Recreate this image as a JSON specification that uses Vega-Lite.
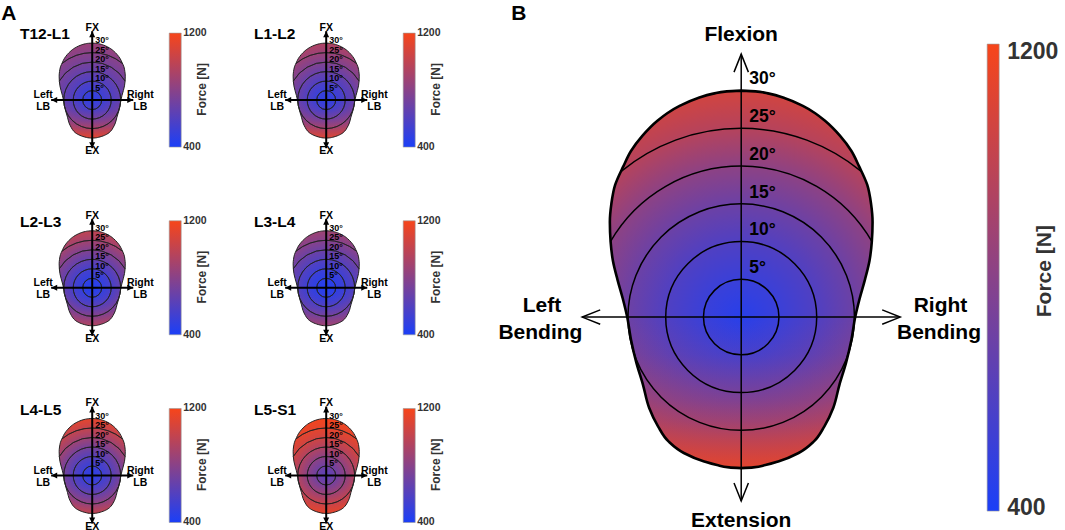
{
"$schema":"https://vega.github.io/schema/vega-lite/v6.json",
"background":"white",
"padding":{"left":1,"top":2.2,"right":0,"bottom":0},
"config":{"view":{"stroke":null},"font":"Liberation Sans"},
"datasets":{
"bnd":[{"y":-20,"x":0,"x2":0},{"y":-19.9,"x":-1.6,"x2":1.6},{"y":-19.6,"x":-3.2,"x2":3.2},{"y":-19.1,"x":-5.0,"x2":5.0},{"y":-18,"x":-7.6,"x2":7.6},{"y":-16.5,"x":-9.6,"x2":9.6},{"y":-14.5,"x":-11.0,"x2":11.0},{"y":-12,"x":-12.2,"x2":12.2},{"y":-9,"x":-13.0,"x2":13.0},{"y":-6,"x":-13.9,"x2":13.9},{"y":-3,"x":-14.6,"x2":14.6},{"y":0,"x":-15.1,"x2":15.1},{"y":2.5,"x":-15.7,"x2":15.7},{"y":5,"x":-16.4,"x2":16.4},{"y":7.5,"x":-17.0,"x2":17.0},{"y":10,"x":-17.3,"x2":17.3},{"y":12.6,"x":-17.4,"x2":17.4},{"y":15,"x":-17.2,"x2":17.2},{"y":17.5,"x":-16.7,"x2":16.7},{"y":20,"x":-15.6,"x2":15.6},{"y":22,"x":-14.6,"x2":14.6},{"y":24,"x":-13.1,"x2":13.1},{"y":26,"x":-11.1,"x2":11.1},{"y":27,"x":-9.8,"x2":9.8},{"y":28,"x":-8.1,"x2":8.1},{"y":29,"x":-5.8,"x2":5.8},{"y":29.6,"x":-3.7,"x2":3.7},{"y":29.9,"x":-1.9,"x2":1.9},{"y":30,"x":0,"x2":0}],
"circ":[{"x":0,"y":0,"r":5,"t1":0,"t2":360},{"x":0,"y":0,"r":10,"t1":0,"t2":360},{"x":0,"y":0,"r":15,"t1":0,"t2":360},{"x":0,"y":0,"r":20,"t1":-60,"t2":60},{"x":0,"y":0,"r":25,"t1":-39.5,"t2":39.5}],
"degs":[{"x":0,"y":6.5,"lab":"5°"},{"x":0,"y":11.5,"lab":"10°"},{"x":0,"y":16.5,"lab":"15°"},{"x":0,"y":21.5,"lab":"20°"},{"x":0,"y":26.5,"lab":"25°"},{"x":0,"y":31.5,"lab":"30°"}],
"axS":[{"x":-21.6,"x2":21.6,"y":0,"y2":0},{"x":0,"x2":0,"y":-25.3,"y2":36.3}],
"headS":[{"x":-21.6,"y":0,"ang":180},{"x":21.6,"y":0,"ang":0},{"x":0,"y":36.3,"ang":270},{"x":0,"y":-25.3,"ang":90}],
"labS":[{"x":0,"y":37.9,"t":"FX"},{"x":0,"y":-27.0,"t":"EX"},{"x":-25.8,"y":2.6,"t":"Left"},{"x":-25.8,"y":-3.7,"t":"LB"},{"x":25.3,"y":2.6,"t":"Right"},{"x":25.3,"y":-3.7,"t":"LB"}],
"axB":[{"x":-21.06,"x2":21.06,"y":0,"y2":0},{"x":0,"x2":0,"y":-24.37,"y2":34.83}],
"headB":[{"x":-21.06,"y":0,"ang":180},{"x":21.06,"y":0,"ang":0},{"x":0,"y":34.83,"ang":270},{"x":0,"y":-24.37,"ang":90}],
"labB":[{"x":0,"y":37.35,"t":"Flexion"},{"x":0,"y":-27.0,"t":"Extension"},{"x":-26.4,"y":1.5,"t":"Left"},{"x":-26.6,"y":-2.1,"t":"Bending"},{"x":26.4,"y":1.5,"t":"Right"},{"x":26.2,"y":-2.1,"t":"Bending"}],
"barS":[{"x":40.53,"x2":46.84,"f":400,"f2":1200}],
"barLabS":[{"x":47.9,"f":1200,"t":"1200"},{"x":47.9,"f":400,"t":"400"}],
"barTitS":[{"x":57.9,"f":805,"t":"Force [N]"}],
"barB":[{"x":32.58,"x2":34.17,"f":400,"f2":1200}],
"barTitB":[{"x":40.26,"f":811,"t":"Force [N]"}]
},
"resolve":{"scale":{"x":"independent","y":"independent","radius":"independent","theta":"independent"}},
"spacing":44.3,
"hconcat":[
{"columns":2,"spacing":{"row":50.7,"column":44},"bounds":"flush",
 "concat":[
  {"width":190,"height":136.8,"resolve":{"scale":{"y":"independent"}},
   "layer":[
    {"encoding":{"x":{"field":"x","type":"quantitative","scale":{"domain":[-38,62],"nice":false,"zero":false},"axis":null},"y":{"field":"y","type":"quantitative","scale":{"domain":[-31,41],"nice":false,"zero":false},"axis":null}},
     "layer":[
      {"data":{"name":"bnd"},"mark":{"type":"area","orient":"horizontal","interpolate":"monotone","strokeWidth":0,"fill":{"gradient":"radial","x1":0.5,"y1":0.6,"r1":0,"x2":0.5,"y2":0.6,"r2":0.6,"stops":[{"offset":0,"color":"#3140e1"},{"offset":0.1667,"color":"#3c40d6"},{"offset":0.3333,"color":"#5040c2"},{"offset":0.5,"color":"#6441ae"},{"offset":0.6667,"color":"#77429a"},{"offset":0.8333,"color":"#894289"},{"offset":1,"color":"#9b4277"}]}},"encoding":{"x2":{"field":"x2"}}},
      {"data":{"name":"bnd"},"transform":[{"filter":"datum.y <= 0"}],"mark":{"type":"area","orient":"horizontal","interpolate":"monotone","strokeWidth":0,"fill":{"gradient":"linear","x1":0,"y1":0,"x2":0,"y2":1,"stops":[{"offset":0,"color":"rgba(247,69,26,0)"},{"offset":0.25,"color":"rgba(247,69,26,0.083)"},{"offset":0.55,"color":"rgba(247,69,26,0.27)"},{"offset":0.69,"color":"rgba(247,69,26,0.41)"},{"offset":0.82,"color":"rgba(247,69,26,0.58)"},{"offset":1,"color":"rgba(247,69,26,0.83)"}]}},"encoding":{"x2":{"field":"x2"}}},
      {"data":{"name":"circ"},"mark":{"type":"arc","filled":false,"stroke":"#222222","strokeWidth":0.8},"encoding":{"theta":{"field":"t1","type":"quantitative","scale":{"type":"linear","domain":[0,360],"range":[0,6.283185307],"zero":false,"nice":false}},"theta2":{"field":"t2"},"radius":{"field":"r","type":"quantitative","scale":{"type":"linear","domain":[0,30],"range":[0,57],"zero":true,"nice":false}},"radius2":{"field":"r"}}},
      {"data":{"name":"bnd"},"mark":{"type":"area","orient":"horizontal","interpolate":"monotone","filled":false,"stroke":"#222222","strokeWidth":1},"encoding":{"x2":{"field":"x2"}}},
      {"data":{"name":"axS"},"mark":{"type":"rule","color":"black","strokeWidth":2},"encoding":{"x2":{"field":"x2"},"y2":{"field":"y2"}}},
      {"data":{"name":"headS"},"mark":{"type":"point","shape":"M0,0L-1,-0.5L-1,0.5Z","filled":true,"color":"black","opacity":1,"size":144,"strokeWidth":0},"encoding":{"angle":{"field":"ang","type":"quantitative","scale":null}}},
      {"data":{"name":"degs"},"mark":{"type":"text","align":"left","baseline":"middle","dx":3,"fontSize":9,"fontWeight":"bold","color":"black"},"encoding":{"text":{"field":"lab","type":"nominal"}}},
      {"data":{"name":"labS"},"mark":{"type":"text","align":"center","baseline":"middle","fontSize":10.5,"fontWeight":"bold","color":"black"},"encoding":{"text":{"field":"t","type":"nominal"}}},
      {"data":{"values":[{"x":-38,"y":34.7,"t":"T12-L1"}]},"mark":{"type":"text","align":"left","baseline":"middle","fontSize":15.5,"fontWeight":"bold","color":"black"},"encoding":{"text":{"field":"t","type":"nominal"}}},
      {"data":{"values":[{"x":-47.9,"y":42.1,"t":"A"}]},"mark":{"type":"text","align":"left","baseline":"alphabetic","fontSize":21,"fontWeight":"bold","color":"black"},"encoding":{"text":{"field":"t","type":"nominal"}}}
     ]},
    {"encoding":{"x":{"field":"x","type":"quantitative","scale":{"domain":[-38,62],"nice":false,"zero":false},"axis":null},"y":{"field":"f","type":"quantitative","scale":{"domain":[316.5,1276.5],"nice":false,"zero":false},"axis":null}},
     "layer":[
      {"data":{"name":"barS"},"mark":{"type":"rect","stroke":"#9a9a9a","strokeWidth":0.6,"fill":{"gradient":"linear","x1":0,"y1":1,"x2":0,"y2":0,"stops":[{"offset":0,"color":"#1b3ff7"},{"offset":1,"color":"#f7451a"}]}},"encoding":{"x2":{"field":"x2"},"y2":{"field":"f2"}}},
      {"data":{"name":"barLabS"},"mark":{"type":"text","align":"left","baseline":"middle","fontSize":10.5,"fontWeight":"bold","color":"#333333"},"encoding":{"text":{"field":"t","type":"nominal"}}},
      {"data":{"name":"barTitS"},"mark":{"type":"text","align":"center","baseline":"middle","angle":270,"fontSize":12,"fontWeight":"bold","color":"#333333"},"encoding":{"text":{"field":"t","type":"nominal"}}}
     ]}
   ]},
  {"width":190,"height":136.8,"resolve":{"scale":{"y":"independent"}},
   "layer":[
    {"encoding":{"x":{"field":"x","type":"quantitative","scale":{"domain":[-38,62],"nice":false,"zero":false},"axis":null},"y":{"field":"y","type":"quantitative","scale":{"domain":[-31,41],"nice":false,"zero":false},"axis":null}},
     "layer":[
      {"data":{"name":"bnd"},"mark":{"type":"area","orient":"horizontal","interpolate":"monotone","strokeWidth":0,"fill":{"gradient":"radial","x1":0.5,"y1":0.6,"r1":0,"x2":0.5,"y2":0.6,"r2":0.6,"stops":[{"offset":0,"color":"#2d3fe5"},{"offset":0.1667,"color":"#3a40d8"},{"offset":0.3333,"color":"#5040c2"},{"offset":0.5,"color":"#6841aa"},{"offset":0.6667,"color":"#82428f"},{"offset":0.8333,"color":"#9b4277"},{"offset":1,"color":"#b14361"}]}},"encoding":{"x2":{"field":"x2"}}},
      {"data":{"name":"bnd"},"transform":[{"filter":"datum.y <= 0"}],"mark":{"type":"area","orient":"horizontal","interpolate":"monotone","strokeWidth":0,"fill":{"gradient":"linear","x1":0,"y1":0,"x2":0,"y2":1,"stops":[{"offset":0,"color":"rgba(247,69,26,0)"},{"offset":0.25,"color":"rgba(247,69,26,0.077)"},{"offset":0.55,"color":"rgba(247,69,26,0.25)"},{"offset":0.69,"color":"rgba(247,69,26,0.38)"},{"offset":0.82,"color":"rgba(247,69,26,0.54)"},{"offset":1,"color":"rgba(247,69,26,0.77)"}]}},"encoding":{"x2":{"field":"x2"}}},
      {"data":{"name":"circ"},"mark":{"type":"arc","filled":false,"stroke":"#222222","strokeWidth":0.8},"encoding":{"theta":{"field":"t1","type":"quantitative","scale":{"type":"linear","domain":[0,360],"range":[0,6.283185307],"zero":false,"nice":false}},"theta2":{"field":"t2"},"radius":{"field":"r","type":"quantitative","scale":{"type":"linear","domain":[0,30],"range":[0,57],"zero":true,"nice":false}},"radius2":{"field":"r"}}},
      {"data":{"name":"bnd"},"mark":{"type":"area","orient":"horizontal","interpolate":"monotone","filled":false,"stroke":"#222222","strokeWidth":1},"encoding":{"x2":{"field":"x2"}}},
      {"data":{"name":"axS"},"mark":{"type":"rule","color":"black","strokeWidth":2},"encoding":{"x2":{"field":"x2"},"y2":{"field":"y2"}}},
      {"data":{"name":"headS"},"mark":{"type":"point","shape":"M0,0L-1,-0.5L-1,0.5Z","filled":true,"color":"black","opacity":1,"size":144,"strokeWidth":0},"encoding":{"angle":{"field":"ang","type":"quantitative","scale":null}}},
      {"data":{"name":"degs"},"mark":{"type":"text","align":"left","baseline":"middle","dx":3,"fontSize":9,"fontWeight":"bold","color":"black"},"encoding":{"text":{"field":"lab","type":"nominal"}}},
      {"data":{"name":"labS"},"mark":{"type":"text","align":"center","baseline":"middle","fontSize":10.5,"fontWeight":"bold","color":"black"},"encoding":{"text":{"field":"t","type":"nominal"}}},
      {"data":{"values":[{"x":-38,"y":34.7,"t":"L1-L2"}]},"mark":{"type":"text","align":"left","baseline":"middle","fontSize":15.5,"fontWeight":"bold","color":"black"},"encoding":{"text":{"field":"t","type":"nominal"}}}
     ]},
    {"encoding":{"x":{"field":"x","type":"quantitative","scale":{"domain":[-38,62],"nice":false,"zero":false},"axis":null},"y":{"field":"f","type":"quantitative","scale":{"domain":[316.5,1276.5],"nice":false,"zero":false},"axis":null}},
     "layer":[
      {"data":{"name":"barS"},"mark":{"type":"rect","stroke":"#9a9a9a","strokeWidth":0.6,"fill":{"gradient":"linear","x1":0,"y1":1,"x2":0,"y2":0,"stops":[{"offset":0,"color":"#1b3ff7"},{"offset":1,"color":"#f7451a"}]}},"encoding":{"x2":{"field":"x2"},"y2":{"field":"f2"}}},
      {"data":{"name":"barLabS"},"mark":{"type":"text","align":"left","baseline":"middle","fontSize":10.5,"fontWeight":"bold","color":"#333333"},"encoding":{"text":{"field":"t","type":"nominal"}}},
      {"data":{"name":"barTitS"},"mark":{"type":"text","align":"center","baseline":"middle","angle":270,"fontSize":12,"fontWeight":"bold","color":"#333333"},"encoding":{"text":{"field":"t","type":"nominal"}}}
     ]}
   ]},
  {"width":190,"height":136.8,"resolve":{"scale":{"y":"independent"}},
   "layer":[
    {"encoding":{"x":{"field":"x","type":"quantitative","scale":{"domain":[-38,62],"nice":false,"zero":false},"axis":null},"y":{"field":"y","type":"quantitative","scale":{"domain":[-31,41],"nice":false,"zero":false},"axis":null}},
     "layer":[
      {"data":{"name":"bnd"},"mark":{"type":"area","orient":"horizontal","interpolate":"monotone","strokeWidth":0,"fill":{"gradient":"radial","x1":0.5,"y1":0.6,"r1":0,"x2":0.5,"y2":0.6,"r2":0.6,"stops":[{"offset":0,"color":"#223ff0"},{"offset":0.1667,"color":"#3140e1"},{"offset":0.3333,"color":"#4740cb"},{"offset":0.5,"color":"#6441ae"},{"offset":0.6667,"color":"#82428f"},{"offset":0.8333,"color":"#a3436e"},{"offset":1,"color":"#c04451"}]}},"encoding":{"x2":{"field":"x2"}}},
      {"data":{"name":"bnd"},"transform":[{"filter":"datum.y <= 0"}],"mark":{"type":"area","orient":"horizontal","interpolate":"monotone","strokeWidth":0,"fill":{"gradient":"linear","x1":0,"y1":0,"x2":0,"y2":1,"stops":[{"offset":0,"color":"rgba(247,69,26,0)"},{"offset":0.25,"color":"rgba(247,69,26,0.04)"},{"offset":0.55,"color":"rgba(247,69,26,0.13)"},{"offset":0.69,"color":"rgba(247,69,26,0.2)"},{"offset":0.82,"color":"rgba(247,69,26,0.28)"},{"offset":1,"color":"rgba(247,69,26,0.4)"}]}},"encoding":{"x2":{"field":"x2"}}},
      {"data":{"name":"circ"},"mark":{"type":"arc","filled":false,"stroke":"#222222","strokeWidth":0.8},"encoding":{"theta":{"field":"t1","type":"quantitative","scale":{"type":"linear","domain":[0,360],"range":[0,6.283185307],"zero":false,"nice":false}},"theta2":{"field":"t2"},"radius":{"field":"r","type":"quantitative","scale":{"type":"linear","domain":[0,30],"range":[0,57],"zero":true,"nice":false}},"radius2":{"field":"r"}}},
      {"data":{"name":"bnd"},"mark":{"type":"area","orient":"horizontal","interpolate":"monotone","filled":false,"stroke":"#222222","strokeWidth":1},"encoding":{"x2":{"field":"x2"}}},
      {"data":{"name":"axS"},"mark":{"type":"rule","color":"black","strokeWidth":2},"encoding":{"x2":{"field":"x2"},"y2":{"field":"y2"}}},
      {"data":{"name":"headS"},"mark":{"type":"point","shape":"M0,0L-1,-0.5L-1,0.5Z","filled":true,"color":"black","opacity":1,"size":144,"strokeWidth":0},"encoding":{"angle":{"field":"ang","type":"quantitative","scale":null}}},
      {"data":{"name":"degs"},"mark":{"type":"text","align":"left","baseline":"middle","dx":3,"fontSize":9,"fontWeight":"bold","color":"black"},"encoding":{"text":{"field":"lab","type":"nominal"}}},
      {"data":{"name":"labS"},"mark":{"type":"text","align":"center","baseline":"middle","fontSize":10.5,"fontWeight":"bold","color":"black"},"encoding":{"text":{"field":"t","type":"nominal"}}},
      {"data":{"values":[{"x":-38,"y":34.7,"t":"L2-L3"}]},"mark":{"type":"text","align":"left","baseline":"middle","fontSize":15.5,"fontWeight":"bold","color":"black"},"encoding":{"text":{"field":"t","type":"nominal"}}}
     ]},
    {"encoding":{"x":{"field":"x","type":"quantitative","scale":{"domain":[-38,62],"nice":false,"zero":false},"axis":null},"y":{"field":"f","type":"quantitative","scale":{"domain":[316.5,1276.5],"nice":false,"zero":false},"axis":null}},
     "layer":[
      {"data":{"name":"barS"},"mark":{"type":"rect","stroke":"#9a9a9a","strokeWidth":0.6,"fill":{"gradient":"linear","x1":0,"y1":1,"x2":0,"y2":0,"stops":[{"offset":0,"color":"#1b3ff7"},{"offset":1,"color":"#f7451a"}]}},"encoding":{"x2":{"field":"x2"},"y2":{"field":"f2"}}},
      {"data":{"name":"barLabS"},"mark":{"type":"text","align":"left","baseline":"middle","fontSize":10.5,"fontWeight":"bold","color":"#333333"},"encoding":{"text":{"field":"t","type":"nominal"}}},
      {"data":{"name":"barTitS"},"mark":{"type":"text","align":"center","baseline":"middle","angle":270,"fontSize":12,"fontWeight":"bold","color":"#333333"},"encoding":{"text":{"field":"t","type":"nominal"}}}
     ]}
   ]},
  {"width":190,"height":136.8,"resolve":{"scale":{"y":"independent"}},
   "layer":[
    {"encoding":{"x":{"field":"x","type":"quantitative","scale":{"domain":[-38,62],"nice":false,"zero":false},"axis":null},"y":{"field":"y","type":"quantitative","scale":{"domain":[-31,41],"nice":false,"zero":false},"axis":null}},
     "layer":[
      {"data":{"name":"bnd"},"mark":{"type":"area","orient":"horizontal","interpolate":"monotone","strokeWidth":0,"fill":{"gradient":"radial","x1":0.5,"y1":0.6,"r1":0,"x2":0.5,"y2":0.6,"r2":0.6,"stops":[{"offset":0,"color":"#223ff0"},{"offset":0.1667,"color":"#2d3fe5"},{"offset":0.3333,"color":"#3e40d4"},{"offset":0.5,"color":"#5441be"},{"offset":0.6667,"color":"#6c41a5"},{"offset":0.8333,"color":"#87428b"},{"offset":1,"color":"#9f4372"}]}},"encoding":{"x2":{"field":"x2"}}},
      {"data":{"name":"bnd"},"transform":[{"filter":"datum.y <= 0"}],"mark":{"type":"area","orient":"horizontal","interpolate":"monotone","strokeWidth":0,"fill":{"gradient":"linear","x1":0,"y1":0,"x2":0,"y2":1,"stops":[{"offset":0,"color":"rgba(247,69,26,0)"},{"offset":0.25,"color":"rgba(247,69,26,0.037)"},{"offset":0.55,"color":"rgba(247,69,26,0.12)"},{"offset":0.69,"color":"rgba(247,69,26,0.18)"},{"offset":0.82,"color":"rgba(247,69,26,0.26)"},{"offset":1,"color":"rgba(247,69,26,0.37)"}]}},"encoding":{"x2":{"field":"x2"}}},
      {"data":{"name":"circ"},"mark":{"type":"arc","filled":false,"stroke":"#222222","strokeWidth":0.8},"encoding":{"theta":{"field":"t1","type":"quantitative","scale":{"type":"linear","domain":[0,360],"range":[0,6.283185307],"zero":false,"nice":false}},"theta2":{"field":"t2"},"radius":{"field":"r","type":"quantitative","scale":{"type":"linear","domain":[0,30],"range":[0,57],"zero":true,"nice":false}},"radius2":{"field":"r"}}},
      {"data":{"name":"bnd"},"mark":{"type":"area","orient":"horizontal","interpolate":"monotone","filled":false,"stroke":"#222222","strokeWidth":1},"encoding":{"x2":{"field":"x2"}}},
      {"data":{"name":"axS"},"mark":{"type":"rule","color":"black","strokeWidth":2},"encoding":{"x2":{"field":"x2"},"y2":{"field":"y2"}}},
      {"data":{"name":"headS"},"mark":{"type":"point","shape":"M0,0L-1,-0.5L-1,0.5Z","filled":true,"color":"black","opacity":1,"size":144,"strokeWidth":0},"encoding":{"angle":{"field":"ang","type":"quantitative","scale":null}}},
      {"data":{"name":"degs"},"mark":{"type":"text","align":"left","baseline":"middle","dx":3,"fontSize":9,"fontWeight":"bold","color":"black"},"encoding":{"text":{"field":"lab","type":"nominal"}}},
      {"data":{"name":"labS"},"mark":{"type":"text","align":"center","baseline":"middle","fontSize":10.5,"fontWeight":"bold","color":"black"},"encoding":{"text":{"field":"t","type":"nominal"}}},
      {"data":{"values":[{"x":-38,"y":34.7,"t":"L3-L4"}]},"mark":{"type":"text","align":"left","baseline":"middle","fontSize":15.5,"fontWeight":"bold","color":"black"},"encoding":{"text":{"field":"t","type":"nominal"}}}
     ]},
    {"encoding":{"x":{"field":"x","type":"quantitative","scale":{"domain":[-38,62],"nice":false,"zero":false},"axis":null},"y":{"field":"f","type":"quantitative","scale":{"domain":[316.5,1276.5],"nice":false,"zero":false},"axis":null}},
     "layer":[
      {"data":{"name":"barS"},"mark":{"type":"rect","stroke":"#9a9a9a","strokeWidth":0.6,"fill":{"gradient":"linear","x1":0,"y1":1,"x2":0,"y2":0,"stops":[{"offset":0,"color":"#1b3ff7"},{"offset":1,"color":"#f7451a"}]}},"encoding":{"x2":{"field":"x2"},"y2":{"field":"f2"}}},
      {"data":{"name":"barLabS"},"mark":{"type":"text","align":"left","baseline":"middle","fontSize":10.5,"fontWeight":"bold","color":"#333333"},"encoding":{"text":{"field":"t","type":"nominal"}}},
      {"data":{"name":"barTitS"},"mark":{"type":"text","align":"center","baseline":"middle","angle":270,"fontSize":12,"fontWeight":"bold","color":"#333333"},"encoding":{"text":{"field":"t","type":"nominal"}}}
     ]}
   ]},
  {"width":190,"height":136.8,"resolve":{"scale":{"y":"independent"}},
   "layer":[
    {"encoding":{"x":{"field":"x","type":"quantitative","scale":{"domain":[-38,62],"nice":false,"zero":false},"axis":null},"y":{"field":"y","type":"quantitative","scale":{"domain":[-31,41],"nice":false,"zero":false},"axis":null}},
     "layer":[
      {"data":{"name":"bnd"},"mark":{"type":"area","orient":"horizontal","interpolate":"monotone","strokeWidth":0,"fill":{"gradient":"radial","x1":0.5,"y1":0.6,"r1":0,"x2":0.5,"y2":0.6,"r2":0.6,"stops":[{"offset":0,"color":"#2d3fe5"},{"offset":0.1667,"color":"#3c40d6"},{"offset":0.3333,"color":"#5641bb"},{"offset":0.5,"color":"#77429a"},{"offset":0.6667,"color":"#9f4372"},{"offset":0.8333,"color":"#c4444d"},{"offset":1,"color":"#e5452c"}]}},"encoding":{"x2":{"field":"x2"}}},
      {"data":{"name":"bnd"},"transform":[{"filter":"datum.y <= 0"}],"mark":{"type":"area","orient":"horizontal","interpolate":"monotone","strokeWidth":0,"fill":{"gradient":"linear","x1":0,"y1":0,"x2":0,"y2":1,"stops":[{"offset":0,"color":"rgba(247,69,26,0)"},{"offset":0.25,"color":"rgba(247,69,26,0.038)"},{"offset":0.55,"color":"rgba(247,69,26,0.125)"},{"offset":0.69,"color":"rgba(247,69,26,0.19)"},{"offset":0.82,"color":"rgba(247,69,26,0.27)"},{"offset":1,"color":"rgba(247,69,26,0.38)"}]}},"encoding":{"x2":{"field":"x2"}}},
      {"data":{"name":"circ"},"mark":{"type":"arc","filled":false,"stroke":"#222222","strokeWidth":0.8},"encoding":{"theta":{"field":"t1","type":"quantitative","scale":{"type":"linear","domain":[0,360],"range":[0,6.283185307],"zero":false,"nice":false}},"theta2":{"field":"t2"},"radius":{"field":"r","type":"quantitative","scale":{"type":"linear","domain":[0,30],"range":[0,57],"zero":true,"nice":false}},"radius2":{"field":"r"}}},
      {"data":{"name":"bnd"},"mark":{"type":"area","orient":"horizontal","interpolate":"monotone","filled":false,"stroke":"#222222","strokeWidth":1},"encoding":{"x2":{"field":"x2"}}},
      {"data":{"name":"axS"},"mark":{"type":"rule","color":"black","strokeWidth":2},"encoding":{"x2":{"field":"x2"},"y2":{"field":"y2"}}},
      {"data":{"name":"headS"},"mark":{"type":"point","shape":"M0,0L-1,-0.5L-1,0.5Z","filled":true,"color":"black","opacity":1,"size":144,"strokeWidth":0},"encoding":{"angle":{"field":"ang","type":"quantitative","scale":null}}},
      {"data":{"name":"degs"},"mark":{"type":"text","align":"left","baseline":"middle","dx":3,"fontSize":9,"fontWeight":"bold","color":"black"},"encoding":{"text":{"field":"lab","type":"nominal"}}},
      {"data":{"name":"labS"},"mark":{"type":"text","align":"center","baseline":"middle","fontSize":10.5,"fontWeight":"bold","color":"black"},"encoding":{"text":{"field":"t","type":"nominal"}}},
      {"data":{"values":[{"x":-38,"y":34.7,"t":"L4-L5"}]},"mark":{"type":"text","align":"left","baseline":"middle","fontSize":15.5,"fontWeight":"bold","color":"black"},"encoding":{"text":{"field":"t","type":"nominal"}}}
     ]},
    {"encoding":{"x":{"field":"x","type":"quantitative","scale":{"domain":[-38,62],"nice":false,"zero":false},"axis":null},"y":{"field":"f","type":"quantitative","scale":{"domain":[316.5,1276.5],"nice":false,"zero":false},"axis":null}},
     "layer":[
      {"data":{"name":"barS"},"mark":{"type":"rect","stroke":"#9a9a9a","strokeWidth":0.6,"fill":{"gradient":"linear","x1":0,"y1":1,"x2":0,"y2":0,"stops":[{"offset":0,"color":"#1b3ff7"},{"offset":1,"color":"#f7451a"}]}},"encoding":{"x2":{"field":"x2"},"y2":{"field":"f2"}}},
      {"data":{"name":"barLabS"},"mark":{"type":"text","align":"left","baseline":"middle","fontSize":10.5,"fontWeight":"bold","color":"#333333"},"encoding":{"text":{"field":"t","type":"nominal"}}},
      {"data":{"name":"barTitS"},"mark":{"type":"text","align":"center","baseline":"middle","angle":270,"fontSize":12,"fontWeight":"bold","color":"#333333"},"encoding":{"text":{"field":"t","type":"nominal"}}}
     ]}
   ]},
  {"width":190,"height":136.8,"resolve":{"scale":{"y":"independent"}},
   "layer":[
    {"encoding":{"x":{"field":"x","type":"quantitative","scale":{"domain":[-38,62],"nice":false,"zero":false},"axis":null},"y":{"field":"y","type":"quantitative","scale":{"domain":[-31,41],"nice":false,"zero":false},"axis":null}},
     "layer":[
      {"data":{"name":"bnd"},"mark":{"type":"area","orient":"horizontal","interpolate":"monotone","strokeWidth":0,"fill":{"gradient":"radial","x1":0.5,"y1":0.6,"r1":0,"x2":0.5,"y2":0.6,"r2":0.6,"stops":[{"offset":0,"color":"#5941b9"},{"offset":0.1667,"color":"#6f41a3"},{"offset":0.3333,"color":"#8d4284"},{"offset":0.5,"color":"#b14361"},{"offset":0.6667,"color":"#cf4442"},{"offset":0.8333,"color":"#e5452c"},{"offset":1,"color":"#f3451e"}]}},"encoding":{"x2":{"field":"x2"}}},
      {"data":{"name":"bnd"},"transform":[{"filter":"datum.y <= 0"}],"mark":{"type":"area","orient":"horizontal","interpolate":"monotone","strokeWidth":0,"fill":{"gradient":"linear","x1":0,"y1":0,"x2":0,"y2":1,"stops":[{"offset":0,"color":"rgba(247,69,26,0)"},{"offset":0.25,"color":"rgba(247,69,26,0.055)"},{"offset":0.55,"color":"rgba(247,69,26,0.18)"},{"offset":0.69,"color":"rgba(247,69,26,0.27)"},{"offset":0.82,"color":"rgba(247,69,26,0.385)"},{"offset":1,"color":"rgba(247,69,26,0.55)"}]}},"encoding":{"x2":{"field":"x2"}}},
      {"data":{"name":"circ"},"mark":{"type":"arc","filled":false,"stroke":"#222222","strokeWidth":0.8},"encoding":{"theta":{"field":"t1","type":"quantitative","scale":{"type":"linear","domain":[0,360],"range":[0,6.283185307],"zero":false,"nice":false}},"theta2":{"field":"t2"},"radius":{"field":"r","type":"quantitative","scale":{"type":"linear","domain":[0,30],"range":[0,57],"zero":true,"nice":false}},"radius2":{"field":"r"}}},
      {"data":{"name":"bnd"},"mark":{"type":"area","orient":"horizontal","interpolate":"monotone","filled":false,"stroke":"#222222","strokeWidth":1},"encoding":{"x2":{"field":"x2"}}},
      {"data":{"name":"axS"},"mark":{"type":"rule","color":"black","strokeWidth":2},"encoding":{"x2":{"field":"x2"},"y2":{"field":"y2"}}},
      {"data":{"name":"headS"},"mark":{"type":"point","shape":"M0,0L-1,-0.5L-1,0.5Z","filled":true,"color":"black","opacity":1,"size":144,"strokeWidth":0},"encoding":{"angle":{"field":"ang","type":"quantitative","scale":null}}},
      {"data":{"name":"degs"},"mark":{"type":"text","align":"left","baseline":"middle","dx":3,"fontSize":9,"fontWeight":"bold","color":"black"},"encoding":{"text":{"field":"lab","type":"nominal"}}},
      {"data":{"name":"labS"},"mark":{"type":"text","align":"center","baseline":"middle","fontSize":10.5,"fontWeight":"bold","color":"black"},"encoding":{"text":{"field":"t","type":"nominal"}}},
      {"data":{"values":[{"x":-38,"y":34.7,"t":"L5-S1"}]},"mark":{"type":"text","align":"left","baseline":"middle","fontSize":15.5,"fontWeight":"bold","color":"black"},"encoding":{"text":{"field":"t","type":"nominal"}}}
     ]},
    {"encoding":{"x":{"field":"x","type":"quantitative","scale":{"domain":[-38,62],"nice":false,"zero":false},"axis":null},"y":{"field":"f","type":"quantitative","scale":{"domain":[316.5,1276.5],"nice":false,"zero":false},"axis":null}},
     "layer":[
      {"data":{"name":"barS"},"mark":{"type":"rect","stroke":"#9a9a9a","strokeWidth":0.6,"fill":{"gradient":"linear","x1":0,"y1":1,"x2":0,"y2":0,"stops":[{"offset":0,"color":"#1b3ff7"},{"offset":1,"color":"#f7451a"}]}},"encoding":{"x2":{"field":"x2"},"y2":{"field":"f2"}}},
      {"data":{"name":"barLabS"},"mark":{"type":"text","align":"left","baseline":"middle","fontSize":10.5,"fontWeight":"bold","color":"#333333"},"encoding":{"text":{"field":"t","type":"nominal"}}},
      {"data":{"name":"barTitS"},"mark":{"type":"text","align":"center","baseline":"middle","angle":270,"fontSize":12,"fontWeight":"bold","color":"#333333"},"encoding":{"text":{"field":"t","type":"nominal"}}}
     ]}
   ]}
 ]},
{"width":570,"height":506.3,"resolve":{"scale":{"y":"independent"}},
 "layer":[
  {"encoding":{"x":{"field":"x","type":"quantitative","scale":{"domain":[-33.5,42],"nice":false,"zero":false},"axis":null},"y":{"field":"y","type":"quantitative","scale":{"domain":[-28,39.06],"nice":false,"zero":false},"axis":null}},
   "layer":[
    {"data":{"name":"bnd"},"mark":{"type":"area","orient":"horizontal","interpolate":"monotone","strokeWidth":0,"fill":{"gradient":"radial","x1":0.5,"y1":0.6,"r1":0,"x2":0.5,"y2":0.6,"r2":0.6,"stops":[{"offset":0,"color":"#283fea"},{"offset":0.1667,"color":"#3a40d8"},{"offset":0.3333,"color":"#5040c2"},{"offset":0.5,"color":"#6c41a5"},{"offset":0.6667,"color":"#8d4284"},{"offset":0.8333,"color":"#b5435c"},{"offset":1,"color":"#d2443f"}]}},"encoding":{"x2":{"field":"x2"}}},
    {"data":{"name":"bnd"},"transform":[{"filter":"datum.y <= 0"}],"mark":{"type":"area","orient":"horizontal","interpolate":"monotone","strokeWidth":0,"fill":{"gradient":"linear","x1":0,"y1":0,"x2":0,"y2":1,"stops":[{"offset":0,"color":"rgba(247,69,26,0)"},{"offset":0.25,"color":"rgba(247,69,26,0.08)"},{"offset":0.55,"color":"rgba(247,69,26,0.26)"},{"offset":0.69,"color":"rgba(247,69,26,0.39)"},{"offset":0.82,"color":"rgba(247,69,26,0.56)"},{"offset":1,"color":"rgba(247,69,26,0.8)"}]}},"encoding":{"x2":{"field":"x2"}}},
    {"data":{"name":"circ"},"mark":{"type":"arc","filled":false,"stroke":"black","strokeWidth":1.5},"encoding":{"theta":{"field":"t1","type":"quantitative","scale":{"type":"linear","domain":[0,360],"range":[0,6.283185307],"zero":false,"nice":false}},"theta2":{"field":"t2"},"radius":{"field":"r","type":"quantitative","scale":{"type":"linear","domain":[0,30],"range":[0,226.5],"zero":true,"nice":false}},"radius2":{"field":"r"}}},
    {"data":{"name":"bnd"},"mark":{"type":"area","orient":"horizontal","interpolate":"monotone","filled":false,"stroke":"black","strokeWidth":2.6},"encoding":{"x2":{"field":"x2"}}},
    {"data":{"name":"axB"},"mark":{"type":"rule","color":"black","strokeWidth":1.5},"encoding":{"x2":{"field":"x2"},"y2":{"field":"y2"}}},
    {"data":{"name":"headB"},"mark":{"type":"point","shape":"M-1,-0.4L0,0L-1,0.4","filled":false,"stroke":"black","opacity":1,"size":1296,"strokeWidth":1.5},"encoding":{"angle":{"field":"ang","type":"quantitative","scale":null}}},
    {"data":{"name":"degs"},"mark":{"type":"text","align":"left","baseline":"middle","dx":8,"fontSize":17.5,"fontWeight":"bold","color":"black"},"encoding":{"text":{"field":"lab","type":"nominal"}}},
    {"data":{"name":"labB"},"mark":{"type":"text","align":"center","baseline":"middle","fontSize":21,"fontWeight":"bold","color":"black"},"encoding":{"text":{"field":"t","type":"nominal"}}},
    {"data":{"values":[{"x":-30.46,"y":39.3,"t":"B"}]},"mark":{"type":"text","align":"left","baseline":"alphabetic","fontSize":21,"fontWeight":"bold","color":"black"},"encoding":{"text":{"field":"t","type":"nominal"}}}
   ]},
  {"encoding":{"x":{"field":"x","type":"quantitative","scale":{"domain":[-33.5,42],"nice":false,"zero":false},"axis":null},"y":{"field":"f","type":"quantitative","scale":{"domain":[370.2,1237.5],"nice":false,"zero":false},"axis":null}},
   "layer":[
    {"data":{"name":"barB"},"mark":{"type":"rect","stroke":"#9a9a9a","strokeWidth":0.6,"fill":{"gradient":"linear","x1":0,"y1":1,"x2":0,"y2":0,"stops":[{"offset":0,"color":"#1b3ff7"},{"offset":1,"color":"#f7451a"}]}},"encoding":{"x2":{"field":"x2"},"y2":{"field":"f2"}}},
    {"data":{"values":[{"x":35.23,"f":1200,"t":"1200"}]},"mark":{"type":"text","align":"left","baseline":"top","dy":-3,"fontSize":23,"fontWeight":"bold","color":"#333333"},"encoding":{"text":{"field":"t","type":"nominal"}}},
    {"data":{"values":[{"x":35.23,"f":400,"t":"400"}]},"mark":{"type":"text","align":"left","baseline":"middle","dy":-3,"fontSize":23,"fontWeight":"bold","color":"#333333"},"encoding":{"text":{"field":"t","type":"nominal"}}},
    {"data":{"name":"barTitB"},"mark":{"type":"text","align":"center","baseline":"middle","angle":270,"fontSize":21,"fontWeight":"bold","color":"#333333"},"encoding":{"text":{"field":"t","type":"nominal"}}}
   ]}
 ]}
]
}
